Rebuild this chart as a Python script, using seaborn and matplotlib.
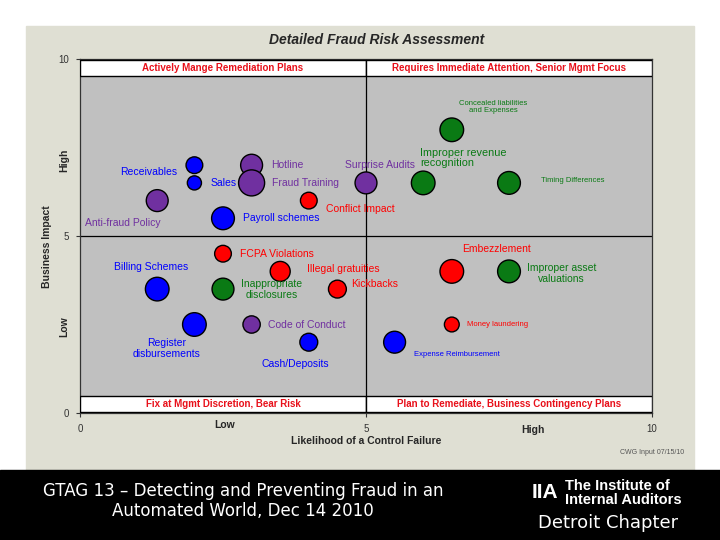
import pandas as pd
import seaborn as sns
import matplotlib.pyplot as plt
from matplotlib.patches import Rectangle

# data
risks = ["Hotline", "Fraud Training", "Receivables", "Sales", "Anti-fraud Policy",
         "Payroll schemes", "Conflict Impact", "Surprise Audits",
         "Improper revenue\nrecognition", "Concealed liabilities\nand Expenses",
         "Timing Differences", "FCPA Violations", "Illegal gratuities", "Kickbacks",
         "Billing Schemes", "Inappropriate\ndisclosures", "Embezzlement",
         "Improper asset\nvaluations", "Register\ndisbursements", "Code of Conduct",
         "Cash/Deposits", "Expense Reimbursement", "Money laundering"]
likelihood = [3.0, 3.0, 2.0, 2.0, 1.35, 2.5, 4.0, 5.0, 6.0, 6.5, 7.5, 2.5, 3.5, 4.5,
              1.35, 2.5, 6.5, 7.5, 2.0, 3.0, 4.0, 5.5, 6.5]
impact = [7.0, 6.5, 7.0, 6.5, 6.0, 5.5, 6.0, 6.5, 6.5, 8.0, 6.5, 4.5, 4.0, 3.5,
          3.5, 3.5, 4.0, 4.0, 2.5, 2.5, 2.0, 2.0, 2.5]
exposure = [12, 17, 7, 5, 12, 13, 7, 12, 14, 14, 13, 7, 10, 8,
            14, 12, 14, 13, 14, 7.5, 8, 12, 5.5]
group = ["purple", "purple", "blue", "blue", "purple", "blue", "red", "purple",
         "green", "green", "green", "red", "red", "red", "blue", "green", "red",
         "green", "blue", "purple", "blue", "blue", "red"]

# label placement (offset points, alignment, font size)
label_dx = [14, 15, -33, 11.5, -25, 14.4, 12.2, -15, -2, 30, 23, 12, 19.4, 10,
            -4.3, 35, 32, 38, -20, 12, -9.4, 13.7, 10.8]
label_dy = [0, 0, -5, 0, -16, 0, -5.8, 13, 18, 16.5, 2, 0, 1.4, 3.6,
            16, 0, 16, -1.4, -17, 0, -16, -8.6, 0]
label_ha = ["left", "left", "center", "left", "center", "left", "left", "left",
            "left", "center", "left", "left", "left", "left", "center", "center",
            "center", "center", "center", "left", "center", "left", "left"]
label_fs = [7.5, 7.5, 7.5, 7.5, 7.5, 7.5, 7.5, 7.5, 7.8, 5.5, 5.5, 7.5, 7.5, 7.5,
            7.5, 7.5, 7.5, 7.5, 7.5, 7.5, 7.5, 5.5, 5.5]

palette = {"blue": "#0000ff", "purple": "#7030a0", "green": "#0a7a14", "red": "#ff0000"}

df = pd.DataFrame({"risk": risks, "likelihood": likelihood, "impact": impact,
                   "exposure": exposure, "group": group})

sns.set_style("white")
plt.rcParams["font.family"] = ["Liberation Sans", "DejaVu Sans"]

fig = plt.figure(figsize=(7.2, 5.4), dpi=100, facecolor="white")
# slide background and footer band
fig.add_artist(Rectangle((26 / 720, 70 / 540), 668 / 720, 444 / 540,
                         transform=fig.transFigure, color="#dfdfd3", zorder=0))
fig.add_artist(Rectangle((0, 0), 1, 70 / 540, transform=fig.transFigure,
                         color="black", zorder=0))

ax = fig.add_axes([80 / 720, 1 - 413 / 540, 572 / 720, 354 / 540])
ax.set_facecolor("#c0c0c0")

sns.scatterplot(data=df, x="likelihood", y="impact", hue="group", size="exposure",
                palette=palette, sizes=(0, 414), size_norm=(0, 20),
                edgecolor="black", linewidth=1, alpha=1, legend=False, ax=ax,
                zorder=3)

for i, name in enumerate(risks):
    ax.annotate(name, (likelihood[i], impact[i]),
                xytext=(label_dx[i], label_dy[i]), textcoords="offset points",
                ha=label_ha[i], va="center", fontsize=label_fs[i],
                color=palette[group[i]], linespacing=1.1, zorder=4)

# quadrant lines and heading bands
ax.axvline(5, color="black", lw=0.9, zorder=2)
ax.axhline(5, color="black", lw=0.9, zorder=2)
bands = [(0, 9.52, "Actively Mange Remediation Plans"),
         (5, 9.52, "Requires Immediate Attention, Senior Mgmt Focus"),
         (0, 0.03, "Fix at Mgmt Discretion, Bear Risk"),
         (5, 0.03, "Plan to Remediate, Business Contingency Plans")]
for bx, by, txt in bands:
    ax.add_patch(Rectangle((bx, by), 5, 0.46, facecolor="white",
                           edgecolor="black", lw=1, zorder=5))
    ax.text(bx + 2.5, by + 0.23, txt, ha="center", va="center", fontsize=7,
            fontweight="bold", color="#e8101a", zorder=6)

ax.set_xlim(0, 10)
ax.set_ylim(0, 10)
ax.set_xticks([0, 5, 10])
ax.set_yticks([0, 5, 10])
ax.tick_params(axis="both", length=3, pad=5, labelsize=7, colors="#333333",
               direction="out", bottom=True, left=True)
for s in ax.spines.values():
    s.set_color("#333333")
    s.set_linewidth(0.9)

ax.set_xlabel("Likelihood of a Control Failure", fontsize=7.5, fontweight="bold")
ax.xaxis.set_label_coords(0.5, -0.066)
ax.set_ylabel("Business Impact", fontsize=7.5, fontweight="bold")
ax.yaxis.set_label_coords(-0.049, 0.47)
ax.text(0.2535, -0.034, "Low", transform=ax.transAxes, ha="center", va="center",
        fontsize=7.5, fontweight="bold")
ax.text(0.792, -0.048, "High", transform=ax.transAxes, ha="center", va="center",
        fontsize=7.5, fontweight="bold")
ax.text(-0.028, 0.715, "High", transform=ax.transAxes, ha="center", va="center",
        rotation=90, fontsize=7.5, fontweight="bold")
ax.text(-0.028, 0.243, "Low", transform=ax.transAxes, ha="center", va="center",
        rotation=90, fontsize=7.5, fontweight="bold")

fig.text(377 / 720, 1 - 40 / 540, "Detailed Fraud Risk Assessment", ha="center",
         va="center", fontsize=10, fontweight="bold", fontstyle="italic")
fig.text(684 / 720, 1 - 452 / 540, "CWG Input 07/15/10", ha="right", va="center",
         fontsize=5, color="#555555")

# footer
fig.text(243 / 720, 1 - 501 / 540,
         "GTAG 13 – Detecting and Preventing Fraud in an\nAutomated World, Dec 14 2010",
         ha="center", va="center", fontsize=12, color="white",
         family="DejaVu Sans", linespacing=1.15)
fig.text(545 / 720, 1 - 493 / 540, "IIA", ha="center", va="center", fontsize=15,
         fontweight="bold", color="white")
fig.text(565 / 720, 1 - 493 / 540, "The Institute of\nInternal Auditors", ha="left",
         va="center", fontsize=10.5, fontweight="bold", color="white",
         linespacing=0.95)
fig.text(608 / 720, 1 - 523 / 540, "Detroit Chapter", ha="center", va="center",
         fontsize=13, color="white", family="DejaVu Sans")

fig.savefig("out.png", dpi=100)
